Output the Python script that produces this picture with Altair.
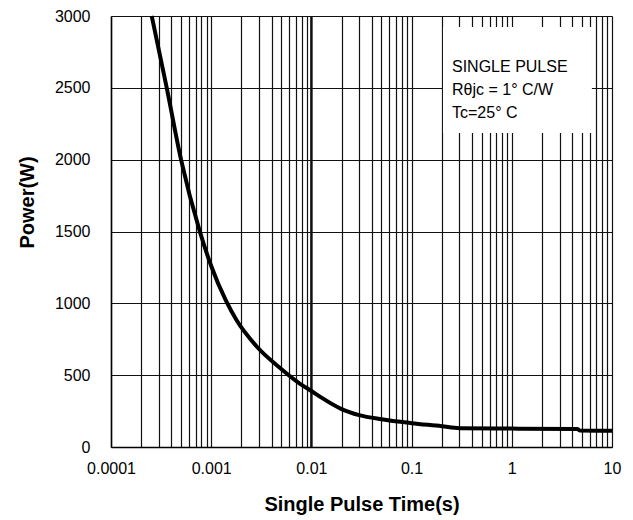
import altair as alt
import pandas as pd

# Curve: single pulse time (s) vs power (W)
pulse_time = [0.000255, 0.00036, 0.0005, 0.00077, 0.001, 0.0014, 0.0018, 0.0028,
              0.0049, 0.0077, 0.01, 0.0125, 0.02, 0.03, 0.05, 0.1, 0.2, 0.3,
              1.0, 4.5, 4.8, 10.0]
power_w = [3000, 2500, 2000, 1500, 1260, 1020, 880, 705,
           548, 440, 390, 345, 264, 222, 193, 166, 145, 131,
           128, 125, 114, 113]

# Axis tick / grid values
x_grid = [m * 10.0 ** e for e in range(-4, 1) for m in range(1, 10)] + [10.0]
y_ticks = [0, 500, 1000, 1500, 2000, 2500, 3000]
emphasis_x = [0.01]

# Annotation box and its text (data coordinates)
box_x = [0.2056]
box_x2 = [6.3]
box_y = [2186]
box_y2 = [2924]
note_lines = ["SINGLE PULSE", "Rθjc = 1° C/W", "Tc=25° C"]
note_x = [0.253, 0.253, 0.253]
note_y = [2610, 2450, 2290]

FONT = "Liberation Sans"

curve_df = pd.DataFrame({"t": pulse_time, "p": power_w})
box_df = pd.DataFrame({"x": box_x, "x2": box_x2, "y": box_y, "y2": box_y2})
note_df = pd.DataFrame({"x": note_x, "y": note_y, "label": note_lines})
emph_df = pd.DataFrame({"t": emphasis_x})

xscale = alt.Scale(type="log", domain=[0.0001, 10])
yscale = alt.Scale(domain=[0, 3000], nice=False)

xaxis = alt.Axis(
    values=x_grid,
    labelExpr="abs(log(datum.value)/LN10 - round(log(datum.value)/LN10)) < 0.001 ? format(datum.value, '~g') : ''",
    labelOverlap=False,
    labelFlush=False,
    grid=True,
    gridColor="#111111",
    gridWidth=1.2,
    ticks=False,
    domainColor="black",
    domainWidth=1.5,
    labelFont=FONT,
    labelFontSize=16,
    labelColor="black",
    labelPadding=13,
    title="Single Pulse Time(s)",
    titleFont=FONT,
    titleFontSize=20,
    titleFontWeight="bold",
    titleColor="black",
    titlePadding=18,
)

yaxis = alt.Axis(
    values=y_ticks,
    format="d",
    grid=True,
    gridColor="#111111",
    gridWidth=1.2,
    ticks=False,
    domainColor="black",
    domainWidth=1.5,
    labelFont=FONT,
    labelFontSize=16,
    labelColor="black",
    labelPadding=21,
    labelFlush=False,
    title="Power(W)",
    titleFont=FONT,
    titleFontSize=20,
    titleFontWeight="bold",
    titleColor="black",
    titleAngle=270,
    titleAlign="center",
    titleBaseline="alphabetic",
    titleX=-78,
    titleY=186,
)

box = alt.Chart(box_df).mark_rect(fill="white").encode(
    x=alt.X("x:Q", scale=xscale, axis=xaxis),
    x2="x2:Q",
    y=alt.Y("y:Q", scale=yscale, axis=yaxis),
    y2="y2:Q",
)

emph = alt.Chart(emph_df).mark_rule(color="#111111", strokeWidth=2.5).encode(
    x=alt.X("t:Q", scale=xscale),
)

line = alt.Chart(curve_df).mark_line(color="black", strokeWidth=4, interpolate="monotone").encode(
    x=alt.X("t:Q", scale=xscale),
    y=alt.Y("p:Q", scale=yscale),
)

notes = alt.Chart(note_df).mark_text(
    align="left", baseline="alphabetic", font=FONT, fontSize=16, color="black"
).encode(
    x=alt.X("x:Q", scale=xscale),
    y=alt.Y("y:Q", scale=yscale),
    text="label:N",
)

chart = alt.layer(box, emph, line, notes).properties(
    width=501,
    height=431,
    autosize=alt.AutoSizeParams(type="none"),
    padding={"left": 103, "top": 8, "right": 12, "bottom": 72},
).configure_view(
    stroke="#999999", strokeWidth=1
).configure(background="white")

chart.save("out.html", embed_options={"renderer": "svg", "actions": False})
